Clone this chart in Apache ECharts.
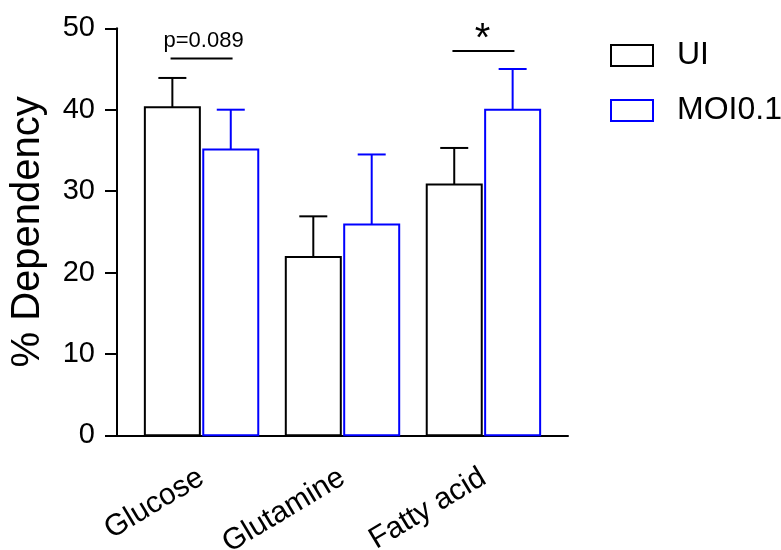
<!DOCTYPE html>
<html>
<head>
<meta charset="utf-8">
<script src="https://cdn.jsdelivr.net/npm/echarts@6/dist/echarts.min.js"></script>
<style>
  html, body { margin: 0; padding: 0; background: #fff; }
  #chart { width: 781px; height: 550px; }
</style>
</head>
<body>
<div id="chart"></div>
<script>
// Substrate dependency (%) for uninfected vs MOI 0.1 cells
const categories = ['Glucose', 'Glutamine', 'Fatty acid'];
const uiMean  = [40.3, 21.9, 30.8];
const uiSd    = [3.6, 5.0, 4.5];
const moiMean = [35.1, 25.9, 40.0];
const moiSd   = [4.9, 8.6, 5.0];
const yTicks  = [0, 10, 20, 30, 40, 50];
// significance brackets: [category index, bracket height, label]
const brackets = [
  [0, 46.3, 'p=0.089'],
  [2, 47.2, '*']
];

const FONT = '"Liberation Sans", Arial, sans-serif';
const BAR_W = 55;        // bar width in px
const PAIR_OFF = 29.2;   // px from category centre to each bar centre
const CAP_HALF = 14;     // half width of the error-bar cap

const chart = echarts.init(document.getElementById('chart'), null, { renderer: 'canvas' });

function groupData(means, sds) {
  return means.map((v, i) => [i, v, v + sds[i]]);
}

// Open bar (white fill, coloured outline) plus an upward SD whisker
function barWithError(offset, color) {
  return function (params, api) {
    const x = api.value(0);
    const top = api.coord([x, api.value(1)]);
    const base = api.coord([x, 0]);
    const end = api.coord([x, api.value(2)]);
    const cx = top[0] + offset;
    return {
      type: 'group',
      children: [
        { type: 'rect',
          shape: { x: cx - BAR_W / 2, y: top[1], width: BAR_W, height: base[1] - top[1] },
          style: { fill: '#fff', stroke: color, lineWidth: 2 } },
        { type: 'line', shape: { x1: cx, y1: top[1], x2: cx, y2: end[1] },
          style: { stroke: color, lineWidth: 2 } },
        { type: 'line', shape: { x1: cx - CAP_HALF, y1: end[1], x2: cx + CAP_HALF, y2: end[1] },
          style: { stroke: color, lineWidth: 2 } }
      ]
    };
  };
}

const option = {
  animation: false,
  backgroundColor: '#fff',
  textStyle: { fontFamily: FONT },
  grid: { left: 117, right: 213, top: 28.3, bottom: 114.7, containLabel: false, outerBoundsMode: 'none' },
  legend: {
    orient: 'vertical',
    left: 605,
    top: 34.5,
    itemWidth: 42,
    itemHeight: 21,
    itemGap: 23,
    icon: 'rect',
    textStyle: { fontSize: 32, color: '#000', fontFamily: FONT, lineHeight: 32, padding: [0, 0, 0, 19] },
    data: [
      { name: 'UI', itemStyle: { color: '#fff', borderColor: '#000', borderWidth: 2 } },
      { name: 'MOI0.1', itemStyle: { color: '#fff', borderColor: '#0000ff', borderWidth: 2 } }
    ]
  },
  xAxis: {
    type: 'value',
    min: -0.6,
    max: 2.6,
    splitLine: { show: false },
    axisLine: { show: true, onZero: false, lineStyle: { color: '#000', width: 2 } },
    axisTick: { show: false },
    axisLabel: {
      customValues: [0, 1, 2],
      formatter: v => categories[Math.round(v)],
      rotate: 31,
      fontSize: 30,
      color: '#000',
      fontFamily: FONT,
      margin: 40
    }
  },
  yAxis: {
    type: 'value',
    min: yTicks[0],
    max: yTicks[yTicks.length - 1],
    interval: 10,
    name: '% Dependency',
    nameLocation: 'middle',
    nameGap: 69,
    nameTextStyle: { fontSize: 40, color: '#000', fontFamily: FONT },
    splitLine: { show: false },
    axisLine: { show: true, onZero: false, lineStyle: { color: '#000', width: 2 } },
    axisTick: { show: true, inside: false, length: 12, lineStyle: { color: '#000', width: 2 } },
    axisLabel: { fontSize: 29, color: '#000', fontFamily: FONT, margin: 22 }
  },
  series: [
    {
      name: 'UI', type: 'custom', data: groupData(uiMean, uiSd),
      itemStyle: { color: '#fff', borderColor: '#000' },
      renderItem: barWithError(-PAIR_OFF, '#000'), z: 2
    },
    {
      name: 'MOI0.1', type: 'custom', data: groupData(moiMean, moiSd),
      itemStyle: { color: '#fff', borderColor: '#0000ff' },
      renderItem: barWithError(PAIR_OFF, '#0000ff'), z: 2
    },
    {
      name: 'sig', type: 'custom', data: brackets,
      renderItem: function (params, api) {
        const p = api.coord([api.value(0), api.value(1)]);
        const label = brackets[params.dataIndex][2];
        const star = label === '*';
        return {
          type: 'group',
          children: [
            { type: 'line', shape: { x1: p[0] - 31, y1: p[1], x2: p[0] + 31, y2: p[1] },
              style: { stroke: '#000', lineWidth: 2 } },
            { type: 'text',
              style: {
                text: label, x: p[0] + (star ? -1 : 2), y: p[1] + (star ? -11 : -17),
                align: 'center', verticalAlign: 'middle',
                fontSize: star ? 40 : 22, fontFamily: FONT, fill: '#000'
              } }
          ]
        };
      },
      z: 3, silent: true
    }
  ]
};

chart.setOption(option);
</script>
</body>
</html>
